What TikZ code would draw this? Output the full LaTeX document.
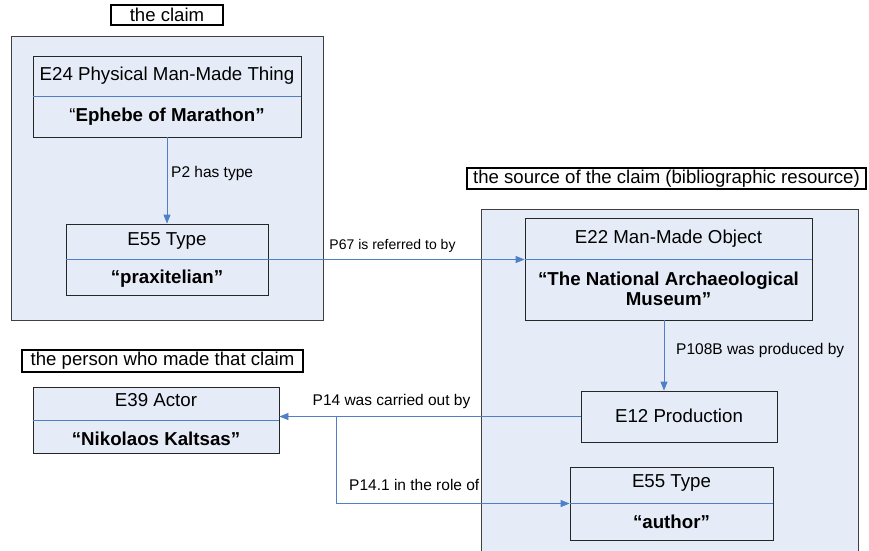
\documentclass[tikz,border=0pt]{standalone}
\usepackage{fontspec}
\setmainfont{Liberation Sans}
\usetikzlibrary{positioning}
\usetikzlibrary{arrows.meta}
\definecolor{panelblue}{RGB}{230,236,247}
\definecolor{linkblue}{RGB}{79,128,199}

\begin{document}
\begin{tikzpicture}[x=1pt,y=-1pt
    ,panel/.style={draw=black!75,fill=panelblue,inner sep=0pt,line width=0.8pt}
    ,entity/.style={draw=black!85,fill=panelblue,inner sep=0pt,line width=0.8pt}
    ,tag/.style={draw,line width=1.3pt,fill=white,inner sep=0pt,font=\fontsize{18.6}{20}\selectfont}
    ,title/.style={font=\fontsize{18.7}{21}\selectfont}
    ,value/.style={font=\fontsize{18.7}{20}\selectfont\bfseries,align=center}
    ,divider/.style={draw=linkblue,line width=0.8pt}
    ,rel/.style={draw=linkblue,line width=0.8pt,-{Triangle[length=9pt,width=7pt]}}
    ,lbl/.style={font=\fontsize{15.5}{16}\selectfont,inner sep=0pt}]
  \path[use as bounding box,clip] (0,0) rectangle (869,550);
  \fill[white] (0,0) rectangle (869,550);

  % panels
  \node[panel,minimum width=312,minimum height=284] (claimpanel) at (167,178) {};
  \node[panel,minimum width=377,minimum height=360] (sourcepanel) at (669.5,389) {};
  \node[tag,minimum width=112,minimum height=20] (claimtag) at (167,15) {the claim};
  \node[tag,minimum width=399,minimum height=21] (sourcetag) at (666.5,178.5)
    {the source of the claim (bibliographic resource)};
  \node[tag,minimum width=281,minimum height=22] (persontag) at (162.5,361)
    {the person who made that claim};

  % entities
  \node[entity,minimum width=268,minimum height=81] (e24) at (167,96.5) {};
  \node[entity,minimum width=202,minimum height=71] (praxitelian) at (167,259.5) {};
  \node[entity,minimum width=287,minimum height=102] (e22) at (668.5,269) {};
  \node[entity,minimum width=196,minimum height=51] (e12) at (679,416.5) {};
  \node[entity,minimum width=203,minimum height=73] (author) at (671.5,503.5) {};
  \node[entity,minimum width=246,minimum height=66] (e39) at (156,420) {};

  \draw[divider] (e24.west) -- (e24.east);
  \draw[divider] (praxitelian.west) -- (praxitelian.east);
  \draw[divider] ([yshift=10pt]e22.west) -- ([yshift=10pt]e22.east);
  \draw[divider] (author.west) -- (author.east);
  \draw[divider] (e39.west) -- (e39.east);

  \node[title] (e24t) at (167,76) {E24 Physical Man-Made Thing};
  \node[value] (e24v) at (167,117) {{\mdseries“}Ephebe of Marathon”};
  \node[title] (praxt) at (167,241) {E55 Type};
  \node[value] (praxv) at (167,279) {“praxitelian”};
  \node[title] (e22t) at (668.5,239) {E22 Man-Made Object};
  \node[value] (e22v) at (668.5,289) {“The National Archaeological\\Museum”};
  \node[title] (e12t) at (679,416) {E12 Production};
  \node[title] (autht) at (671.5,483) {E55 Type};
  \node[value] (authv) at (671.5,522) {“author”};
  \node[title] (e39t) at (156,400) {E39 Actor};
  \node[value] (e39v) at (156,439) {“Nikolaos Kaltsas”};

  % properties
  \draw[rel] (e24.south) -- (praxitelian.north);
  \node[lbl,anchor=west] (p2) at (171,173) {P2 has type};
  \draw[rel] (praxitelian.east) -- (praxitelian.east -| e22.west);
  \node[lbl,font=\fontsize{14}{16}\selectfont] (p67) at (392.5,246) {P67 is referred to by};
  \draw[rel] ([xshift=-4.5pt]e22.south) -- ([xshift=-4.5pt]e22.south |- e12.north);
  \node[lbl,anchor=west] (p108) at (676,350) {P108B was produced by};
  \draw[rel] (e12.west) -- (e12.west -| e39.east);
  \node[lbl] (p14) at (391.5,401) {P14 was carried out by};
  \coordinate (split) at (336,416.5);
  \draw[rel] (split) |- (author.west);
  \node[lbl,anchor=west] (p141) at (349,485) {P14.1 in the role of};
\end{tikzpicture}
\end{document}
